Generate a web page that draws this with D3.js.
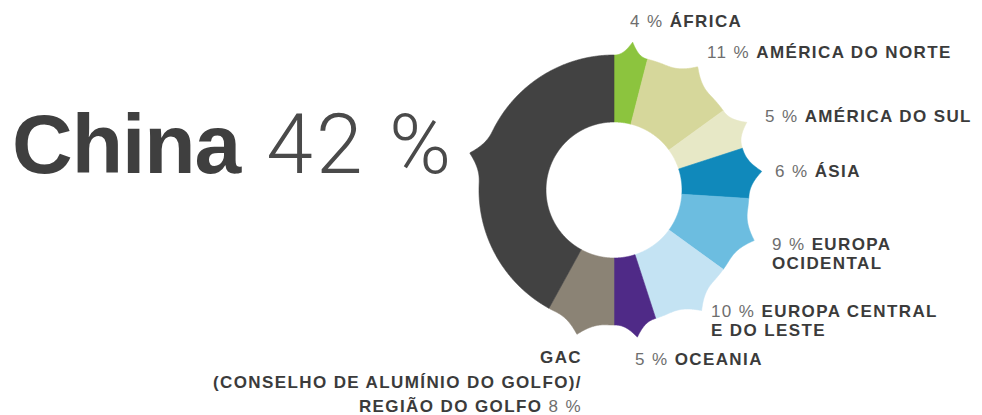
<!DOCTYPE html>
<html>
<head>
<meta charset="utf-8">
<script src="https://cdn.jsdelivr.net/npm/d3@7"></script>
<style>
  html, body { margin: 0; padding: 0; background: #ffffff; }
  svg { display: block; }
  .lbl { font-family: "Liberation Sans", Arial, Helvetica, sans-serif; font-size: 17px; letter-spacing: 1.4px; }
  .pct { font-weight: 400; fill: #6e6e6e; }
  .name { font-weight: 700; fill: #3b3b3b; }
</style>
</head>
<body>
<svg id="chart" width="982" height="415"></svg>
<script>
// Regions, clockwise from 12 o'clock
const regions = ["ÁFRICA", "AMÉRICA DO NORTE", "AMÉRICA DO SUL", "ÁSIA", "EUROPA OCIDENTAL",
                 "EUROPA CENTRAL E DO LESTE", "OCEANIA", "GAC", "China"];
// Share of each region, in percent
const shares = [4, 11, 5, 6, 9, 10, 5, 8, 42];
const colors = ["#8cc43e", "#d6d79b", "#e7e8c6", "#1089bb", "#6cbde0", "#c4e3f3", "#4f2a87", "#8b8375", "#424242"];

// Label text lines per region (percent shown separately)
const labelLines = [
  ["ÁFRICA"],
  ["AMÉRICA DO NORTE"],
  ["AMÉRICA DO SUL"],
  ["ÁSIA"],
  ["EUROPA", "OCIDENTAL"],
  ["EUROPA CENTRAL", "E DO LESTE"],
  ["OCEANIA"],
  ["GAC", "(CONSELHO DE ALUMÍNIO DO GOLFO)/", "REGIÃO DO GOLFO"]
];

// Where each label block sits
const labelLayout = [
  { x: 630, y: 27, anchor: "start", lh: 19 },
  { x: 707, y: 58, anchor: "start", lh: 19 },
  { x: 765, y: 122, anchor: "start", lh: 19 },
  { x: 775, y: 177, anchor: "start", lh: 19 },
  { x: 772, y: 250, anchor: "start", lh: 19 },
  { x: 711, y: 317, anchor: "start", lh: 19 },
  { x: 635, y: 365, anchor: "start", lh: 19 },
  { x: 582, y: 363, anchor: "end", lh: 24.5 }
];

const svg = d3.select("#chart");
const cx = 614, cy = 190;
const innerR = 68, baseR = 135, spikeH = 14;

const pie = d3.pie().sort(null).value(d => d).startAngle(0).endAngle(2 * Math.PI);
const arcs = pie(shares);

// Outer radius along a slice: a concave-sided point at the slice middle
function outerRadius(theta, a0, a1) {
  const mid = (a0 + a1) / 2;
  const half = (a1 - a0) / 2;
  const w = Math.min(half, 12 * Math.PI / 180);
  const d = Math.abs(theta - mid);
  const s = Math.max(0, 1 - d / w);
  return baseR + spikeH * Math.pow(s, 2.4);
}

const radial = d3.lineRadial().angle(p => p[0]).radius(p => p[1]).curve(d3.curveLinearClosed);

function slicePoints(a) {
  const pts = [];
  const step = 0.25 * Math.PI / 180;
  const n = Math.max(2, Math.ceil((a.endAngle - a.startAngle) / step));
  for (let i = 0; i <= n; i++) {
    const t = a.startAngle + (a.endAngle - a.startAngle) * i / n;
    pts.push([t, outerRadius(t, a.startAngle, a.endAngle)]);
  }
  for (let i = n; i >= 0; i--) {
    const t = a.startAngle + (a.endAngle - a.startAngle) * i / n;
    pts.push([t, innerR]);
  }
  return pts;
}

const g = svg.append("g").attr("transform", `translate(${cx},${cy})`);
g.selectAll("path.slice")
  .data(arcs)
  .join("path")
  .attr("class", "slice")
  .attr("d", d => radial(slicePoints(d)))
  .attr("fill", (d, i) => colors[i])
  .attr("stroke", (d, i) => colors[i])
  .attr("stroke-width", 0.6);

// Region labels
labelLines.forEach((lines, i) => {
  const L = labelLayout[i];
  const t = svg.append("text").attr("class", "lbl")
    .attr("x", L.x).attr("y", L.y).attr("text-anchor", L.anchor);
  const pctText = shares[i] + " %";
  if (L.anchor === "start") {
    lines.forEach((line, k) => {
      const ts = t.append("tspan").attr("x", L.x).attr("dy", k === 0 ? 0 : L.lh);
      if (k === 0) {
        ts.append("tspan").attr("class", "pct").text(pctText + " ");
        ts.append("tspan").attr("class", "name").text(line);
      } else {
        ts.attr("class", "name").text(line);
      }
    });
  } else {
    lines.forEach((line, k) => {
      const ts = t.append("tspan").attr("x", L.x).attr("dy", k === 0 ? 0 : L.lh);
      if (k === lines.length - 1) {
        ts.append("tspan").attr("class", "name").text(line + " ");
        ts.append("tspan").attr("class", "pct").text(pctText);
      } else {
        ts.attr("class", "name").text(line);
      }
    });
  }
});

// Headline for the largest share
const china = svg.append("text").attr("x", 12).attr("y", 173);
china.append("tspan")
  .attr("font-family", "'Liberation Sans', Arial, sans-serif")
  .attr("font-weight", 700).attr("font-size", 84).attr("letter-spacing", -1)
  .attr("fill", "#3f3f3f")
  .text(regions[8]);
china.append("tspan")
  .attr("font-family", "Roboto, 'Liberation Sans', sans-serif")
  .attr("font-weight", 300).attr("font-size", 84).attr("letter-spacing", 3)
  .attr("fill", "#4a4a4a")
  .attr("dx", 26)
  .text(shares[8] + " %");
</script>
</body>
</html>
